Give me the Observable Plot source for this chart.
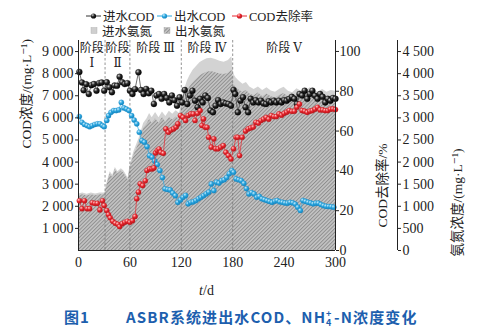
<!DOCTYPE html>
<html><head><meta charset="utf-8">
<script src="https://cdn.jsdelivr.net/npm/d3@7"></script>
<script src="https://cdn.jsdelivr.net/npm/@observablehq/plot@0.6"></script>
<style>
body{margin:0;background:#fff;}
#wrap{position:relative;width:483px;height:333px;overflow:hidden;font-family:"Liberation Serif","Times New Roman","Noto Sans CJK SC",serif;color:#222;}
.layer{position:absolute;left:0;top:0;}
#legend{position:absolute;left:0;top:0;}
#xlabel{position:absolute;top:283px;left:0;width:413px;text-align:center;font-size:14px;}
#caption{position:absolute;top:307px;left:64px;font-family:"Noto Sans CJK SC",sans-serif;font-weight:bold;font-size:15px;letter-spacing:1.1px;color:#1d5fae;white-space:nowrap;line-height:20px;}
.gap{display:inline-block;width:36px;}
.ss{display:inline-block;position:relative;width:8px;height:14px;vertical-align:baseline;}
.sup{position:absolute;left:0;top:0px;font-size:9px;line-height:9px;}
.sub{position:absolute;left:0;top:9px;font-size:9px;line-height:9px;}
</style></head><body>
<svg width="0" height="0" style="position:absolute">
<defs>
<pattern id="hatch" patternUnits="userSpaceOnUse" width="2.6" height="2.6" patternTransform="rotate(45)">
<rect width="2.6" height="2.6" fill="#c4c4c4"/>
<line x1="0.5" y1="0" x2="0.5" y2="2.6" stroke="#8a8a8a" stroke-width="0.9"/>
</pattern>
<radialGradient id="gBlack" cx="35%" cy="32%" r="70%"><stop offset="0" stop-color="#d0d0d0"/><stop offset="0.45" stop-color="#2a2a2a"/><stop offset="1" stop-color="#000"/></radialGradient>
<radialGradient id="gBlue" cx="35%" cy="32%" r="70%"><stop offset="0" stop-color="#c9ecfb"/><stop offset="0.5" stop-color="#2aa6df"/><stop offset="1" stop-color="#1584bd"/></radialGradient>
<radialGradient id="gRed" cx="35%" cy="32%" r="70%"><stop offset="0" stop-color="#ffc8c8"/><stop offset="0.5" stop-color="#e8262e"/><stop offset="1" stop-color="#b8141b"/></radialGradient>
</defs></svg>
<div id="wrap">
<div id="xlabel"><i>t</i>/d</div>
<div id="caption">图1<span class="gap"></span>ASBR系统进出水COD、NH<span class="ss"><span class="sup">+</span><span class="sub">4</span></span>-N浓度变化</div>
</div>
<script>
// ---- axis ticks & stages ----
const xTicks = [0, 60, 120, 180, 240, 300];
const codTicks = [1000, 2000, 3000, 4000, 5000, 6000, 7000, 8000, 9000];
const rateTicks = [0, 20, 40, 60, 80, 100];
const nh4Ticks = [0, 500, 1000, 1500, 2000, 2500, 3000, 3500, 4000, 4500];
const stageBounds = [0, 31, 60, 120, 180, 300];
const stageNames = ["阶段\nⅠ", "阶段\nⅡ", "阶段 Ⅲ", "阶段 Ⅳ", "阶段 Ⅴ"];
const seriesNames = ["进水COD", "出水COD", "COD去除率", "进水氨氮", "出水氨氮"];

// ---- influent COD (day, mg/L) ----
const influentCOD = [[1,8080],[4,7600],[6,7250],[9,7520],[12,7080],[15,7480],[18,7530],[21,7230],[24,7570],[27,7600],[30,7230],[33,7610],[36,7380],[39,7160],[42,7460],[45,7450],[48,7860],[51,7610],[54,7530],[57,7570],[60,7230],[63,7080],[66,7300],[70,8060],[73,7260],[76,7080],[79,7310],[82,7110],[85,7230],[88,6630],[91,7010],[94,7080],[97,6860],[100,7080],[103,6900],[106,6700],[109,7010],[112,6800],[115,6550],[118,6930],[121,6700],[124,7260],[127,6630],[130,7010],[133,7230],[136,6780],[139,6480],[142,6860],[145,6700],[148,7010],[151,6900],[154,6330],[157,6250],[160,6550],[163,6800],[166,6630],[169,6700],[172,6650],[175,6630],[178,6550],[181,7260],[183,7080],[186,6250],[189,6780],[192,6930],[195,6480],[198,6250],[201,6860],[204,6700],[207,6800],[210,6700],[213,6780],[216,6650],[219,6630],[222,6750],[225,6700],[228,6780],[231,6700],[234,6780],[237,6700],[240,6800],[243,6780],[246,6860],[249,6950],[252,6860],[255,6630],[258,7080],[261,7010],[264,7230],[267,6860],[270,7080],[273,7230],[276,7000],[279,6860],[282,7080],[285,6950],[288,6700],[291,6860],[294,6780],[297,6900],[300,6860]];

// ---- effluent COD (day, mg/L) ----
const effluentCOD = [[1,6060],[4,5800],[7,5700],[10,5650],[13,5600],[16,5650],[19,5700],[22,5730],[25,5730],[28,5650],[30,5600],[33,5880],[35,6100],[38,6250],[41,6330],[44,6330],[47,6360],[50,6700],[53,6450],[56,6400],[59,6330],[62,6100],[65,5900],[68,5730],[71,5350],[74,4970],[77,4900],[80,4700],[83,4290],[86,4220],[89,4050],[92,3890],[95,3620],[98,3300],[101,2790],[104,2760],[107,2740],[110,2600],[113,2480],[116,2180],[119,2290],[122,2410],[125,2490],[128,2110],[131,2180],[134,2200],[137,2260],[140,2340],[143,2410],[146,2480],[149,2560],[152,2640],[155,3010],[158,2710],[161,3090],[164,3050],[167,3160],[170,3200],[173,3300],[176,3470],[179,3620],[181,3540],[184,3240],[187,3200],[190,3160],[193,3040],[196,2800],[199,2560],[202,2620],[205,2560],[208,2410],[211,2450],[214,2340],[217,2300],[220,2260],[223,2220],[226,2180],[229,2230],[232,2260],[235,2200],[238,2180],[241,2150],[244,2140],[247,2180],[250,2160],[253,2100],[256,1960],[259,1810],[262,2260],[265,2220],[268,2180],[271,2150],[274,2110],[277,2140],[280,2140],[283,2080],[286,2030],[289,2000],[292,1990],[295,1980],[298,1960]];

// ---- COD removal rate (day, %) ----
const removalRate = [[1,25],[4,21],[7,25],[10,21],[13,21],[16,24],[19,23.7],[22,23.7],[25,20.4],[28,25],[30,22.6],[33,20.1],[35,18],[37,16.4],[40,14.7],[43,13.7],[46,13.2],[48,12],[51,13.5],[54,14.2],[57,14.7],[60,14.2],[63,15],[66,17.1],[68,26],[70,29.3],[72,33.5],[75,32.6],[78,35],[80,40.2],[83,41],[86,41],[88,41.5],[90,49],[92,50.2],[94,51],[96,49.3],[99,48.8],[102,61.1],[105,59.4],[108,60.5],[111,61.1],[114,62],[116,63.6],[119,67.8],[122,66.9],[125,65.3],[128,67.8],[131,68.6],[134,68.6],[136,65.3],[139,68.9],[142,70.3],[144,62.8],[146,66.1],[148,61.9],[150,61.9],[152,56.9],[155,51.9],[158,56.1],[160,51.1],[163,51.1],[166,51.9],[169,52.7],[172,49.3],[175,47.7],[178,46],[181,51.1],[184,56.9],[186,56.9],[188,47.7],[191,56.9],[195,60],[198,61.1],[201,61.6],[204,62],[207,64.4],[210,64],[213,65.3],[216,66],[219,66.9],[222,66],[225,67.8],[228,67.3],[231,67.3],[234,68.6],[237,68],[240,68.9],[243,69.5],[246,70.3],[249,69.9],[252,70],[255,72],[258,73.6],[261,70.3],[264,70],[267,69.4],[270,70],[273,70.3],[276,71],[279,71.9],[282,70.6],[285,70.6],[288,70.3],[291,70.3],[294,71],[297,71.1],[300,70.8]];

// ---- ammonia nitrogen (mg/L) ----
const nh4Days = [0,5,10,15,20,25,30,31,33,35,37,40,43,46,50,53,56,58,60,62,65,68,72,76,80,83,86,90,94,98,102,106,110,114,118,121,124,127,130,134,138,142,146,150,155,160,165,170,175,179,181,184,188,192,196,200,205,210,215,220,225,230,235,240,245,250,255,260,265,270,275,280,285,290,295,300];
const nh4In = [1280,1300,1270,1300,1280,1300,1300,1320,1500,1650,1780,1700,1880,1780,1850,1800,1700,1640,1900,2050,2250,2400,2600,2870,2980,3100,3000,3120,3000,3130,3030,3150,3080,3160,3100,3420,3650,3830,3950,4080,4170,4250,4300,4340,4350,4320,4280,4260,4300,4380,4000,3900,3820,3760,3800,3700,3640,3700,3620,3680,3610,3580,3650,3690,3600,3570,3660,3600,3580,3680,3620,3580,3640,3580,3620,3600];
const nh4Out = [1240,1260,1230,1260,1240,1260,1260,1280,1450,1600,1730,1650,1830,1730,1800,1750,1650,1590,1840,1980,2170,2300,2500,2760,2860,2960,2880,2980,2880,3000,2900,3010,2950,3020,2970,3250,3450,3600,3700,3800,3880,3950,4000,4030,4050,4020,3990,3980,4010,4080,3760,3680,3620,3580,3620,3540,3500,3560,3480,3540,3480,3450,3510,3550,3470,3440,3520,3470,3450,3540,3480,3450,3500,3450,3490,3470];

// ---- build tables ----
const toRows = arr => arr.map(([day, v]) => ({day, v}));
const infRows = toRows(influentCOD), effRows = toRows(effluentCOD), rateRows = toRows(removalRate);
const nh4Rows = nh4Days.map((day, i) => ({day, inflow: nh4In[i], outflow: nh4Out[i]}));
const stages = stageNames.map((name, i) => ({name, mid: (stageBounds[i] + stageBounds[i + 1]) / 2}));
const fmt = d => d >= 1000 ? d3.format(",")(d).replace(",", " ") : String(d);

const W = 483, H = 300;
const FONT = '"Liberation Serif","Times New Roman","DejaVu Serif","Noto Sans CJK SC",serif';
const common = {
  width: W, height: H, marginLeft: 78, marginRight: 148, marginTop: 40, marginBottom: 50,
  style: `background:transparent;overflow:visible;font-family:${FONT};font-size:14px;color:#222;`
};
const wrap = document.getElementById("wrap");
function add(svg) { svg.classList.add("layer"); svg.style.position = "absolute"; svg.style.left = "0"; svg.style.top = "0"; wrap.appendChild(svg); }

// Layer A: ammonia areas and far right axis
add(Plot.plot({
  ...common,
  x: {domain: [0, 300], axis: null},
  y: {domain: [0, 4750]},
  marks: [
    Plot.areaY(nh4Rows, {x: "day", y: "inflow", fill: "#d3d3d3"}),
    Plot.areaY(nh4Rows, {x: "day", y: "outflow", fill: "url(#hatch)"}),
    Plot.ruleX([300], {dx: 62, y1: 0, y2: 4750, stroke: "#222", strokeWidth: 1}),
    Plot.axisY({anchor: "right", dx: 62, ticks: nh4Ticks, tickFormat: fmt, tickSize: 3, tickPadding: 2, label: null}),
    Plot.text(["氨氮浓度/(mg·L⁻¹)"], {frameAnchor: "right", dx: 122, dy: 3, rotate: -90, fontSize: 13.5})
  ]
}));

// Layer B: COD concentrations, left axis, x axis, stages
add(Plot.plot({
  ...common,
  x: {domain: [0, 300]},
  y: {domain: [0, 9500]},
  marks: [
    Plot.ruleX(stageBounds.slice(1, -1), {stroke: "#777", strokeWidth: 0.8, strokeDasharray: "2.5,2"}),
    Plot.text(stages, {x: "mid", text: "name", frameAnchor: "top", lineAnchor: "top", dy: 1, fontSize: 12, lineHeight: 1.25}),
    Plot.line(infRows, {x: "day", y: "v", stroke: "#333", strokeWidth: 0.7}),
    Plot.dot(infRows, {x: "day", y: "v", r: 3, fill: "url(#gBlack)", stroke: "#000", strokeWidth: 0.3}),
    Plot.line(effRows, {x: "day", y: "v", stroke: "#2aa6df", strokeWidth: 0.7}),
    Plot.dot(effRows, {x: "day", y: "v", r: 2.6, fill: "url(#gBlue)", stroke: "#1a8cc8", strokeWidth: 0.3}),
    Plot.ruleX([0], {stroke: "#222", strokeWidth: 1}),
    Plot.ruleY([0], {stroke: "#222", strokeWidth: 1}),
    Plot.axisY({anchor: "left", ticks: codTicks, tickFormat: fmt, tickSize: 3, tickPadding: 2, label: null}),
    Plot.axisX({anchor: "bottom", ticks: xTicks, tickSize: 0, tickPadding: 7, label: null}),
    Plot.text(["COD浓度/(mg·L⁻¹)"], {frameAnchor: "left", dx: -52, dy: 3, rotate: -90, fontSize: 13.5})
  ]
}));

// Layer C: COD removal rate, middle right axis
add(Plot.plot({
  ...common,
  x: {domain: [0, 300], axis: null},
  y: {domain: [0, 105.5]},
  marks: [
    Plot.line(rateRows, {x: "day", y: "v", stroke: "#e8262e", strokeWidth: 0.7}),
    Plot.dot(rateRows, {x: "day", y: "v", r: 2.6, fill: "url(#gRed)", stroke: "#c01a20", strokeWidth: 0.3}),
    Plot.ruleX([300], {stroke: "#222", strokeWidth: 1}),
    Plot.axisY({anchor: "right", ticks: rateTicks, tickSize: 3, tickPadding: 1, label: null}),
    Plot.text(["COD去除率/%"], {frameAnchor: "right", dx: 47, dy: -2, rotate: -90, fontSize: 13.5})
  ]
}));

// Legend
const lg = d3.select(wrap).append("svg").attr("id", "legend").attr("width", W).attr("height", 40)
  .style("font-family", FONT).style("font-size", "12.5px");
const lineItems = [
  {x: 86, name: seriesNames[0], stroke: "#333", fill: "url(#gBlack)"},
  {x: 157, name: seriesNames[1], stroke: "#2aa6df", fill: "url(#gBlue)"},
  {x: 232, name: seriesNames[2], stroke: "#e8262e", fill: "url(#gRed)"}
];
lineItems.forEach(it => {
  lg.append("line").attr("x1", it.x).attr("x2", it.x + 15).attr("y1", 16).attr("y2", 16).attr("stroke", it.stroke).attr("stroke-width", 1);
  lg.append("circle").attr("cx", it.x + 7.5).attr("cy", 16).attr("r", 2.6).attr("fill", it.fill);
  lg.append("text").attr("x", it.x + 17).attr("y", 20.5).attr("fill", "#222").text(it.name);
});
const areaItems = [
  {x: 91, name: seriesNames[3], fill: "#cfcfcf"},
  {x: 164, name: seriesNames[4], fill: "url(#hatch)"}
];
areaItems.forEach(it => {
  lg.append("rect").attr("x", it.x).attr("y", 27.5).attr("width", 6).attr("height", 6).attr("fill", it.fill).attr("stroke", "#aaa").attr("stroke-width", 0.4);
  lg.append("text").attr("x", it.x + 11).attr("y", 35.5).attr("fill", "#222").text(it.name);
});
</script>
</body></html>
